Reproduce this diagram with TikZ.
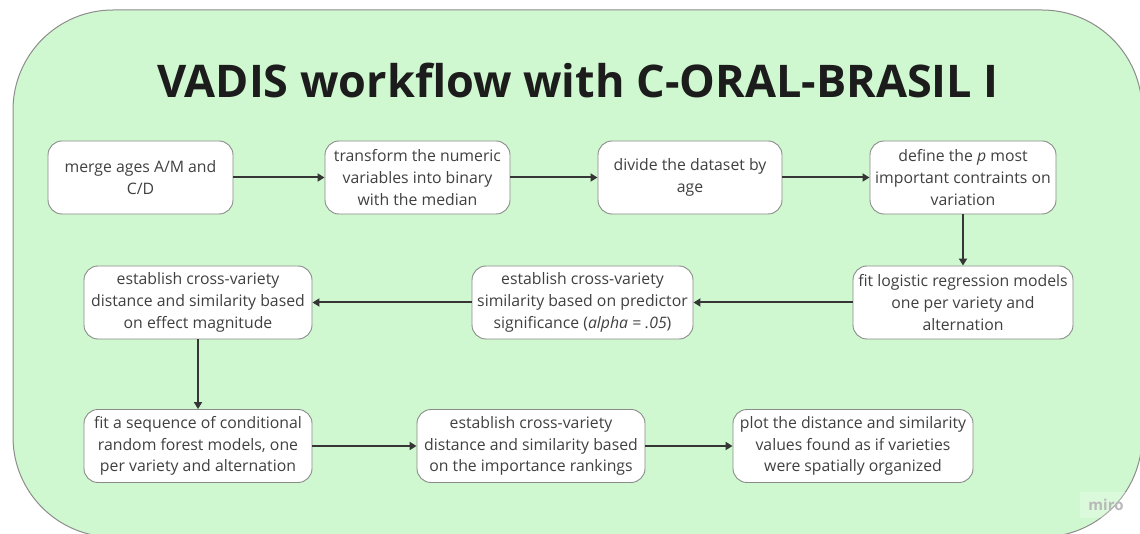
\documentclass[tikz,border=0pt]{standalone}
\usepackage{fontspec}
\setmainfont{Open Sans}
\usetikzlibrary{arrows.meta}
\definecolor{panelfill}{HTML}{D0F8D0}
\definecolor{panelline}{HTML}{8C8C8C}
\definecolor{boxline}{HTML}{8A8A8A}
\definecolor{ink}{HTML}{404040}
\definecolor{titleink}{HTML}{1C1C1C}
\definecolor{wire}{HTML}{363636}
\tikzset{
  stepbox/.style={draw=boxline, line width=0.9pt, fill=white, rounded corners=14pt,
    minimum height=73pt, inner sep=0pt, align=center, text=ink,
    font=\fontsize{15.8}{21.7}\selectfont},
  flow/.style={draw=wire, line width=2pt, -{Triangle[length=7pt,width=8pt]}}
}
\begin{document}
\begin{tikzpicture}[x=1pt,y=-1pt]
\useasboundingbox (0,0) rectangle (1140,534);
\clip (0,0) rectangle (1140,534);
% green panel
\draw[panelline, fill=panelfill, line width=1pt, rounded corners=100pt] (13,10) rectangle (1142,537);
% title
\node[anchor=base, text=titleink, font=\fontsize{45}{50}\selectfont\bfseries] (title) at (578,98) {VADIS workflow with C-ORAL-BRASIL I};
% first row
\node[stepbox, minimum width=185pt] (merge) at (140.5,177.5) {merge ages A/M and\\C/D};
\node[stepbox, minimum width=185pt] (binary) at (417.5,177.5) {transform the numeric\\variables into binary\\with the median};
\node[stepbox, minimum width=184pt] (divide) at (690,177.5) {divide the dataset by\\age};
\node[stepbox, minimum width=186pt] (define) at (963,177.5) {define the \textit{p} most\\important contraints on\\variation};
% second row
\node[stepbox, minimum width=220pt] (logit) at (963,302.5) {fit logistic regression models\\one per variety and\\alternation};
\node[stepbox, minimum width=221pt] (signif) at (582.5,302.5) {establish cross-variety\\similarity based on predictor\\significance (\textit{alpha = .05})};
\node[stepbox, minimum width=228pt] (effect) at (198,302.5) {establish cross-variety\\distance and similarity based\\on effect magnitude};
% third row
\node[stepbox, minimum width=228pt] (forest) at (198,446) {fit a sequence of conditional\\random forest models, one\\per variety and alternation};
\node[stepbox, minimum width=228pt] (rank) at (531,446) {establish cross-variety\\distance and similarity based\\on the importance rankings};
\node[stepbox, minimum width=240pt] (plot) at (853,446) {plot the distance and similarity\\values found as if varieties\\were spatially organized};
% connectors
\draw[flow] (merge) -- (binary);
\draw[flow] (binary) -- (divide);
\draw[flow] (divide) -- (define);
\draw[flow] (define) -- (logit);
\draw[flow] (logit) -- (signif);
\draw[flow] (signif) -- (effect);
\draw[flow] (effect) -- (forest);
\draw[flow] (forest) -- (rank);
\draw[flow] (rank) -- (plot);
% watermark
\fill[white, opacity=0.25] (1080,492) rectangle (1140,518);
\node[text=black!28, font=\fontsize{15}{18}\selectfont\bfseries] (mark) at (1106,505) {miro};
\end{tikzpicture}
\end{document}
